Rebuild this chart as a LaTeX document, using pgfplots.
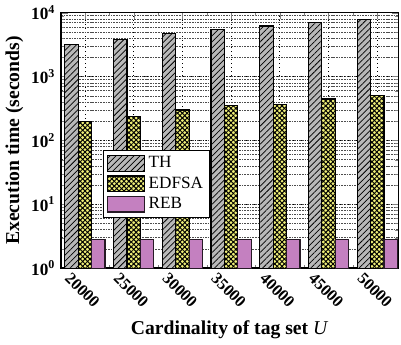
\documentclass[border=0pt]{standalone}
\usepackage{pgfplots}
\pgfplotsset{compat=1.18}
\usetikzlibrary{patterns.meta}
\usepackage{fontspec}
\setmainfont{Liberation Serif}
\definecolor{thgray}{RGB}{184,184,184}
\definecolor{edyellow}{RGB}{240,240,120}
\definecolor{rebpink}{RGB}{196,128,192}
\begin{document}
\begin{tikzpicture}
\begin{axis}[
  scale only axis, width=206pt, height=156pt,
  ymode=log, log origin=infty, ymin=1, ymax=10000,
  xmin=-0.49, xmax=6.43,
  ybar=0pt, bar width=0.275,
  legend image code/.code={\draw[#1] (0pt,-4.8pt) rectangle (23pt,4.8pt);},
  xtick={0,1,2,3,4,5,6},
  xticklabels={20000,25000,30000,35000,40000,45000,50000},
  minor xtick={0.5,1.5,2.5,3.5,4.5,5.5},
  ytick={1,10,100,1000,10000},
  yticklabels={\textbf{10\textsuperscript{0}},\textbf{10\textsuperscript{1}},\textbf{10\textsuperscript{2}},\textbf{10\textsuperscript{3}},\textbf{10\textsuperscript{4}}},
  yticklabel style={font=\fontsize{10.5}{12}\selectfont},
  xticklabel style={font=\fontsize{10}{12}\selectfont\bfseries, yshift=-13.5pt, xshift=-1.5pt, rotate=-45, anchor=center},
  xmajorgrids=true, ymajorgrids=true, yminorgrids=true, xminorgrids=false,
  major grid style={dotted, black, line width=0.5pt},
  minor grid style={dash pattern=on 1pt off 0.6pt, black!70, line width=0.35pt},
  tick align=inside,
  major tick length=4pt, minor tick length=2pt,
  axis line style={line width=0.9pt},
  xlabel={\textbf{Cardinality of tag set} \textit{U}},
  ylabel={\textbf{Execution time (seconds)}},
  label style={font=\fontsize{12}{14}\selectfont},
  ylabel style={yshift=-2pt},
  xlabel style={yshift=1pt},
  legend style={at={(0.124,0.464)}, anchor=north west, draw=black, line width=0.6pt,
    font=\fontsize{10.5}{12}\selectfont, row sep=0pt, inner sep=2pt},
  legend cell align=left,
]
\addplot[draw=black, line width=0.7pt, fill=thgray, bar shift=-0.275,
  postaction={pattern={Lines[angle=45,distance=2.6pt,line width=0.45pt]}}]
  coordinates {(0,3140) (1,3870) (2,4700) (3,5500) (4,6200) (5,7000) (6,7800)};
\addplot[draw=black, line width=0.7pt, fill=edyellow, bar shift=0,
  postaction={pattern={Lines[angle=45,distance=2.1pt,line width=0.6pt]}},
  postaction={pattern={Lines[angle=-45,distance=2.1pt,line width=0.6pt]}}]
  coordinates {(0,200) (1,234) (2,300) (3,350) (4,362) (5,446) (6,500)};
\addplot[draw=black!80!rebpink, line width=0.7pt, fill=rebpink, bar shift=0.275]
  coordinates {(0,2.8) (1,2.8) (2,2.8) (3,2.8) (4,2.8) (5,2.8) (6,2.8)};
\legend{TH,EDFSA,REB}
\end{axis}
\end{tikzpicture}
\end{document}
